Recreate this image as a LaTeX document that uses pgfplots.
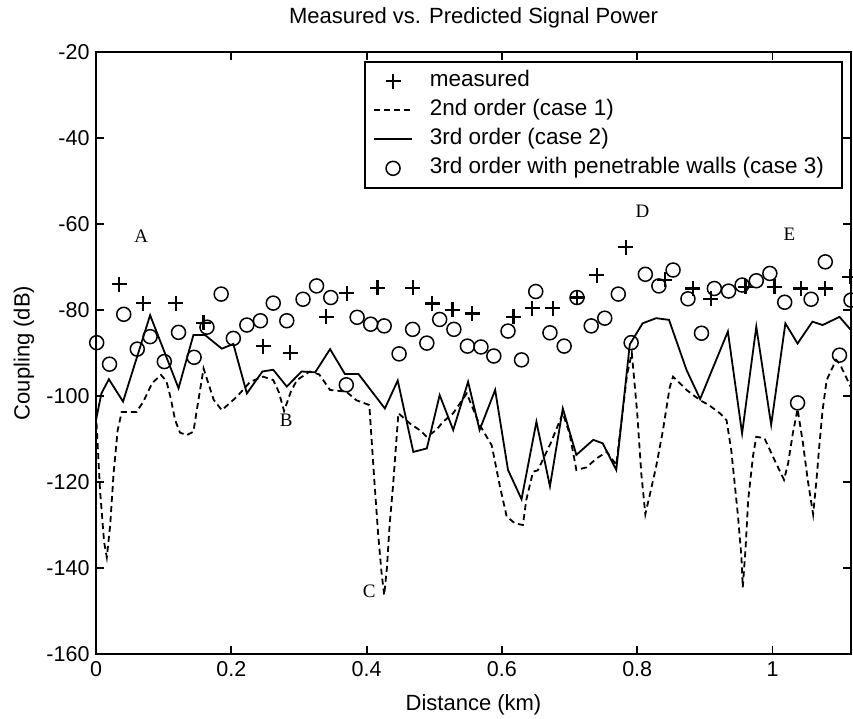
\documentclass[border=0pt]{standalone}
\usepackage{fontspec}
\setmainfont{Liberation Sans}
\newfontfamily\lettfont{Liberation Serif}
\usepackage{pgfplots}
\pgfplotsset{compat=1.18}

\pgfplotstableread{
x y
0.034 -74.0
0.070 -78.4
0.118 -78.4
0.159 -83.0
0.247 -88.4
0.287 -90.0
0.340 -81.6
0.371 -76.1
0.416 -74.8
0.468 -74.8
0.497 -78.5
0.527 -80.0
0.556 -80.8
0.617 -81.6
0.645 -79.6
0.675 -79.6
0.711 -77.1
0.740 -71.9
0.783 -65.4
0.841 -73.0
0.882 -75.0
0.909 -77.4
0.960 -74.6
1.003 -74.6
1.042 -75.0
1.078 -75.0
1.114 -72.3
}\measured

\pgfplotstableread{
x y
0.000 -104.0
0.006 -122.0
0.012 -134.0
0.016 -137.5
0.021 -130.0
0.026 -118.0
0.032 -108.0
0.038 -103.7
0.060 -103.7
0.070 -101.3
0.083 -97.0
0.096 -95.1
0.104 -96.5
0.110 -100.2
0.117 -105.6
0.124 -108.5
0.134 -109.1
0.144 -108.3
0.149 -103.3
0.159 -93.6
0.166 -97.0
0.174 -100.9
0.186 -103.3
0.208 -100.2
0.228 -96.7
0.247 -95.5
0.262 -96.3
0.270 -99.0
0.278 -103.5
0.288 -99.0
0.297 -96.3
0.316 -94.3
0.330 -95.0
0.346 -98.6
0.370 -99.0
0.385 -101.0
0.404 -102.1
0.412 -121.0
0.417 -132.0
0.422 -141.0
0.426 -146.3
0.430 -140.0
0.434 -130.0
0.439 -121.0
0.447 -104.0
0.464 -106.4
0.479 -108.0
0.489 -109.5
0.503 -107.9
0.513 -106.0
0.528 -104.0
0.548 -99.4
0.567 -106.7
0.585 -111.5
0.597 -121.0
0.607 -128.0
0.619 -129.6
0.631 -130.0
0.636 -124.2
0.646 -117.6
0.653 -117.3
0.672 -111.0
0.690 -104.0
0.700 -108.7
0.710 -117.2
0.725 -116.6
0.740 -114.5
0.755 -113.0
0.769 -116.0
0.785 -95.0
0.792 -90.0
0.800 -104.0
0.806 -118.0
0.812 -127.5
0.820 -122.0
0.828 -116.4
0.838 -108.0
0.848 -98.0
0.853 -95.5
0.873 -98.6
0.893 -101.0
0.906 -102.1
0.922 -104.0
0.932 -105.6
0.939 -112.6
0.944 -120.3
0.949 -128.0
0.954 -137.4
0.956 -144.5
0.960 -135.8
0.964 -124.2
0.971 -114.1
0.976 -109.5
0.988 -109.8
1.003 -114.9
1.017 -119.5
1.023 -115.7
1.030 -108.7
1.037 -103.0
1.045 -111.0
1.052 -119.5
1.060 -127.5
1.065 -119.5
1.069 -111.8
1.074 -103.3
1.080 -96.3
1.094 -91.6
1.099 -92.4
1.116 -98.0
}\caseone

\pgfplotstableread{
x y
0.000 -105.6
0.008 -99.4
0.019 -96.1
0.040 -101.3
0.080 -81.2
0.122 -98.2
0.144 -85.8
0.161 -85.8
0.186 -89.0
0.203 -87.9
0.223 -99.4
0.246 -94.3
0.262 -93.9
0.282 -97.8
0.304 -94.3
0.324 -94.5
0.346 -89.1
0.368 -94.9
0.388 -94.9
0.427 -102.9
0.446 -96.4
0.469 -113.0
0.489 -112.2
0.508 -99.8
0.528 -107.9
0.550 -96.7
0.567 -107.9
0.590 -98.6
0.609 -117.2
0.629 -124.0
0.651 -106.0
0.671 -121.0
0.690 -102.9
0.710 -113.7
0.735 -110.2
0.749 -111.0
0.769 -117.2
0.789 -88.0
0.808 -83.1
0.828 -81.9
0.847 -82.3
0.873 -94.0
0.893 -100.7
0.934 -85.0
0.955 -108.7
0.976 -83.9
0.998 -106.7
1.019 -83.1
1.037 -87.8
1.059 -82.7
1.074 -83.5
1.099 -81.6
1.116 -84.7
}\casetwo

\pgfplotstableread{
x y
0.001 -87.6
0.020 -92.6
0.041 -81.0
0.061 -89.1
0.080 -86.2
0.101 -92.0
0.122 -85.2
0.145 -91.0
0.164 -84.0
0.185 -76.3
0.203 -86.6
0.223 -83.5
0.243 -82.5
0.262 -78.4
0.282 -82.5
0.306 -77.5
0.326 -74.4
0.347 -77.1
0.370 -97.4
0.386 -81.7
0.406 -83.3
0.426 -83.7
0.448 -90.2
0.468 -84.5
0.489 -87.7
0.508 -82.2
0.529 -84.5
0.549 -88.4
0.569 -88.6
0.588 -90.7
0.609 -84.9
0.629 -91.6
0.650 -75.7
0.671 -85.3
0.692 -88.4
0.711 -77.1
0.732 -83.7
0.752 -81.9
0.772 -76.3
0.791 -87.6
0.812 -71.7
0.832 -74.4
0.853 -70.7
0.875 -77.4
0.895 -85.4
0.914 -75.0
0.935 -75.6
0.955 -74.2
0.976 -73.2
0.996 -71.5
1.018 -78.2
1.037 -101.6
1.057 -77.5
1.078 -68.8
1.099 -90.5
1.116 -77.7
}\casethree

\begin{document}
\begin{tikzpicture}
\useasboundingbox (-96pt,-65pt) rectangle (757pt,654pt);
\begin{axis}[
  at={(0pt,0pt)}, anchor=south west,
  scale only axis,
  width=755pt, height=602pt,
  xmin=0, xmax=1.116,
  ymin=-160, ymax=-20,
  xtick={0,0.2,0.4,0.6,0.8,1},
  ytick={-160,-140,-120,-100,-80,-60,-40,-20},
  tick align=inside,
  major tick length=8pt,
  axis line style={line width=2.4pt},
  every tick/.style={line width=1.8pt, black},
  /pgf/number format/assume math mode=true,
  tick label style={font=\fontsize{21.5}{24}\selectfont},
  xticklabel style={yshift=-4pt},
  yticklabel style={xshift=-3pt},
  title={Measured vs. Predicted Signal Power},
  title style={font=\fontsize{22}{26}\selectfont, at={(0.5,1)}, anchor=south, yshift=14pt},
  xlabel={Distance (km)},
  ylabel={Coupling (dB)},
  label style={font=\fontsize{22}{26}\selectfont},
  xlabel style={at={(axis description cs:0.5,-0.084)}, anchor=center},
  ylabel style={at={(axis description cs:-0.0954,0.5)}, anchor=center, rotate=0},
  legend image code/.code={\draw[mark repeat=2,mark phase=2,#1] plot coordinates {(0pt,0pt) (19pt,0pt) (38pt,0pt)};},
  legend style={at={(0.989,0.985)}, anchor=north east, draw=black, line width=1.6pt,
    fill=white, font=\fontsize{22.5}{26}\selectfont, row sep=0pt,
    inner xsep=8pt, inner ysep=5pt,
    nodes={inner ysep=3pt, text height=17pt, text depth=6pt},
    /tikz/every odd column/.append style={column sep=15pt}},
  legend cell align=left,
  clip=true,
]
\addplot[only marks, mark=+, mark size=7.5pt, mark options={line width=2.2pt}, black] table {\measured};
\addlegendentry{measured}
\addplot[black, line width=1.8pt, dash pattern=on 6pt off 4pt] table {\caseone};
\addlegendentry{2nd order (case 1)}
\addplot[black, line width=1.8pt] table {\casetwo};
\addlegendentry{3rd order (case 2)}
\addplot[only marks, mark=o, mark size=7pt, mark options={line width=1.5pt}, black] table {\casethree};
\addlegendentry{3rd order with penetrable walls (case 3)\hspace*{8pt}}

\node[font=\lettfont\fontsize{19}{22}\selectfont] at (axis cs:0.067,-62.8) {A};
\node[font=\lettfont\fontsize{19}{22}\selectfont] at (axis cs:0.281,-105.6) {B};
\node[font=\lettfont\fontsize{19}{22}\selectfont] at (axis cs:0.404,-145.5) {C};
\node[font=\lettfont\fontsize{19}{22}\selectfont] at (axis cs:0.8076,-57.1) {D};
\node[font=\lettfont\fontsize{19}{22}\selectfont] at (axis cs:1.025,-62.3) {E};
\end{axis}
\end{tikzpicture}
\end{document}
